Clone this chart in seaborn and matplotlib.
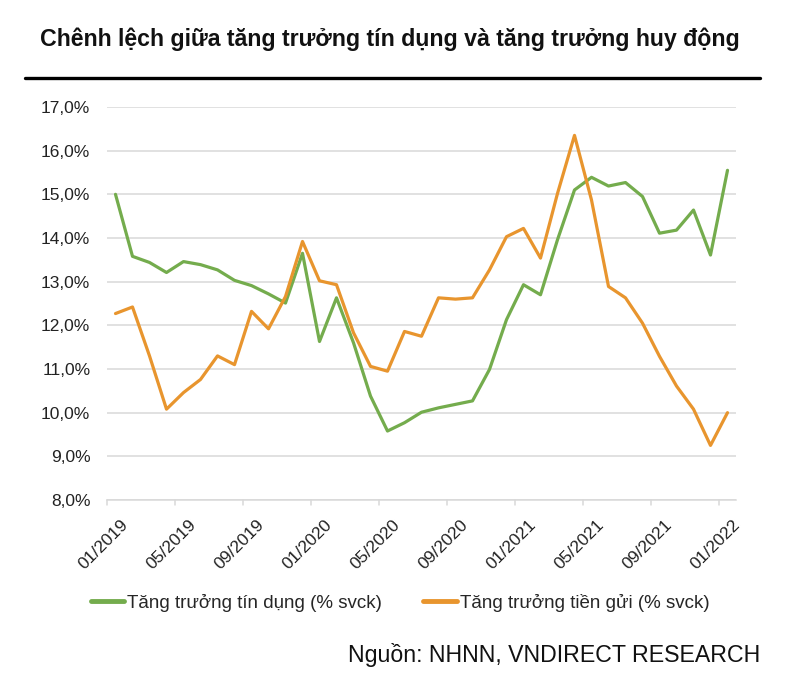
import numpy as np
import pandas as pd
import matplotlib
matplotlib.use("Agg")
import matplotlib.pyplot as plt
import matplotlib.transforms as mtrans
import seaborn as sns
from matplotlib.lines import Line2D

# monthly values, 01/2019 .. 01/2022
months = [f"{m:02d}/{y}" for y in (2019, 2020, 2021) for m in range(1, 13)] + ["01/2022"]
credit_growth = [15.00, 13.58, 13.44, 13.21, 13.46, 13.39, 13.27, 13.03, 12.91, 12.72,
                 12.51, 13.65, 11.63, 12.63, 11.60, 10.38, 9.58, 9.77, 10.01, 10.11,
                 10.19, 10.27, 10.99, 12.13, 12.93, 12.70, 13.96, 15.10, 15.39, 15.19,
                 15.27, 14.95, 14.11, 14.18, 14.64, 13.61, 15.55]
deposit_growth = [12.27, 12.42, 11.30, 10.08, 10.46, 10.76, 11.30, 11.10, 12.32, 11.92,
                  12.66, 13.92, 13.02, 12.93, 11.83, 11.06, 10.95, 11.86, 11.75, 12.63,
                  12.60, 12.63, 13.27, 14.03, 14.22, 13.54, 15.02, 16.35, 14.87, 12.89,
                  12.63, 12.05, 11.29, 10.61, 10.08, 9.25, 10.00]
series_names = ["Tăng trưởng tín dụng (% svck)", "Tăng trưởng tiền gửi (% svck)"]
series_colors = ["#74ac4d", "#e8952e"]

sns.set_style("white")
plt.rcParams["font.family"] = ["Liberation Sans", "DejaVu Sans"]

df = pd.DataFrame({"idx": np.arange(len(months)),
                   series_names[0]: credit_growth,
                   series_names[1]: deposit_growth})
long = df.melt(id_vars="idx", var_name="series", value_name="value")

fig = plt.figure(figsize=(8, 6.75), dpi=100)
ax = fig.add_axes([107 / 800, 1 - 500 / 675, 629 / 800, 393 / 675])

for name, col in zip(series_names, series_colors):
    sub = long[long["series"] == name]
    sns.lineplot(data=sub, x="idx", y="value", color=col, lw=2.3, ax=ax,
                 legend=False, solid_joinstyle="round", solid_capstyle="round")

ax.set_xlim(-0.5, len(months) - 0.5)
ax.set_ylim(8, 17)
yt = np.arange(8, 17.01, 1)
ax.set_yticks(yt)
ax.set_yticklabels([f"{v:.1f}%".replace(".", ",") for v in yt],
                   fontsize=12.5, color="#222222")
ax.grid(axis="y", color="#d9d9d9", lw=1.1)
ax.set_axisbelow(True)
for s in ["top", "right", "left"]:
    ax.spines[s].set_visible(False)
ax.spines["bottom"].set_color("#d9d9d9")
ax.spines["bottom"].set_linewidth(1.1)

label_pos = list(range(0, len(months), 4))
ax.set_xticks(label_pos)
ax.set_xticklabels([months[i] for i in label_pos], rotation=45, ha="right",
                   rotation_mode="anchor", fontsize=12.5, color="#222222")
ax.tick_params(axis="x", length=0, pad=12)
ax.tick_params(axis="y", length=0, pad=12)
shift = mtrans.ScaledTranslation(5 / 100, 0, fig.dpi_scale_trans)
for lbl in ax.get_xticklabels():
    lbl.set_transform(lbl.get_transform() + shift)
# boundary tick marks between categories
for b in np.arange(-0.5, len(months), 4):
    ax.plot([b, b], [0, -0.012], transform=ax.get_xaxis_transform(),
            color="#d9d9d9", lw=1.1, clip_on=False)
ax.set_xlabel("")
ax.set_ylabel("")

fig.text(40 / 800, 1 - 39 / 675, "Chênh lệch giữa tăng trưởng tín dụng và tăng trưởng huy động",
         fontsize=16.7, fontweight="bold", ha="left", va="center", color="#111111")
fig.add_artist(Line2D([25 / 800, 760 / 800], [1 - 78 / 675, 1 - 78 / 675],
                      color="black", lw=2.4, transform=fig.transFigure))

handles = [Line2D([], [], color=c, lw=3.5) for c in series_colors]
fig.legend(handles, series_names, loc="center", bbox_to_anchor=(0.5, 1 - 603 / 675),
           ncol=2, frameon=False, fontsize=13.5, handlelength=1.8, handletextpad=0.15,
           columnspacing=2.2)

fig.text(760 / 800, 1 - 655 / 675, "Nguồn: NHNN, VNDIRECT RESEARCH", fontsize=16.7,
         ha="right", va="center", color="#111111")

fig.savefig("out.png", dpi=100)
